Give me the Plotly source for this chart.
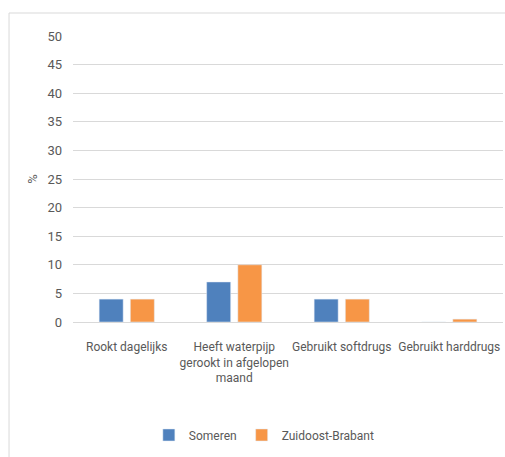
import plotly.graph_objects as go

categories = ["Rookt dagelijks", "Heeft waterpijp<br>gerookt in afgelopen<br>maand",
              "Gebruikt softdrugs", "Gebruikt harddrugs"]
someren = [4, 7, 4, 0]
zob = [4, 10, 4, 0.5]
y_ticks = [0, 5, 10, 15, 20, 25, 30, 35, 40, 45, 50]

FONT = "Roboto, sans-serif"
TXT = "#595959"

fig = go.Figure()
fig.add_bar(x=categories, y=someren, name="Someren", marker_color="#4f81bd")
fig.add_bar(x=categories, y=zob, name="Zuidoost-Brabant", marker_color="#f79646")

fig.update_layout(
    width=505, height=457,
    margin=dict(l=73, r=2, t=36, b=135, autoexpand=False),
    paper_bgcolor="white", plot_bgcolor="white",
    barmode="group", bargap=0.42, bargroupgap=0.23,
    font=dict(family=FONT, size=12, color=TXT),
    showlegend=True,
    legend=dict(orientation="h", x=0.445, xanchor="center", y=-0.395, yanchor="middle",
                font=dict(family=FONT, size=12, color=TXT), itemwidth=30),
    shapes=[dict(type="rect", xref="paper", yref="paper",
                 x0=-0.1488, x1=1.2, y0=-0.6, y1=1.0804,
                 line=dict(color="#d9d9d9", width=1), fillcolor="rgba(0,0,0,0)", layer="below")],
)
fig.update_yaxes(range=[0, 50], tickvals=y_ticks, showgrid=True, gridcolor="#d9d9d9", gridwidth=1,
                 zeroline=True, zerolinecolor="#d9d9d9", zerolinewidth=1, showline=False,
                 automargin=False, ticklabelstandoff=10, tickfont=dict(size=13),
                 title=dict(text="%", standoff=6, font=dict(size=13, color=TXT)))
fig.update_xaxes(showgrid=False, showline=False, ticks="", tickangle=0, automargin=False,
                 ticklabelstandoff=16, tickfont=dict(size=12))

fig.write_html("out.html")
